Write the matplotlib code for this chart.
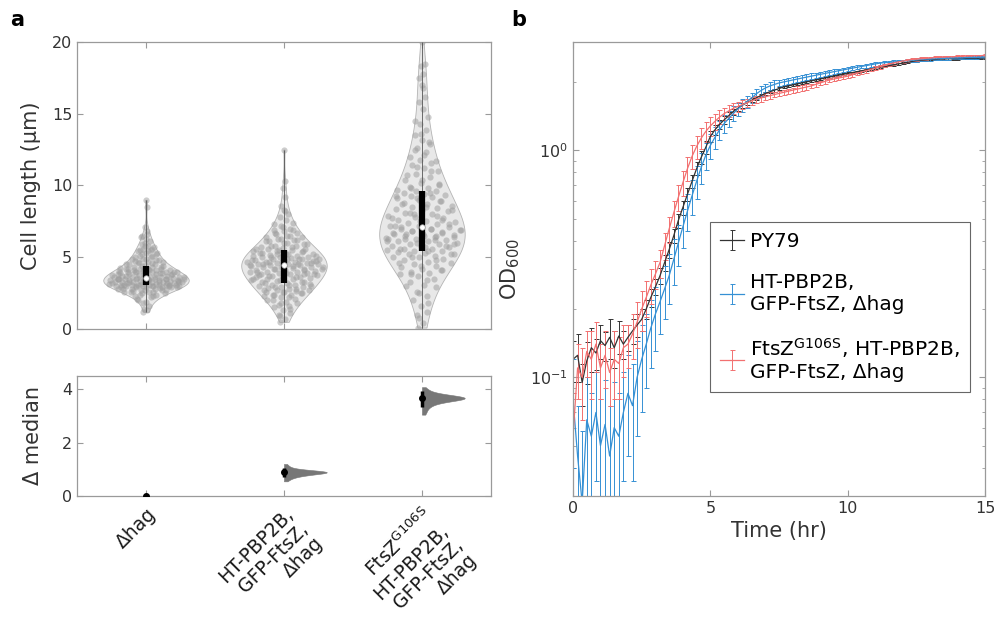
import numpy as np
import matplotlib
matplotlib.use('Agg')
import matplotlib.pyplot as plt
from matplotlib import mlab
from matplotlib.ticker import LogLocator, NullFormatter

plt.rcParams.update({'font.family': 'DejaVu Sans', 'font.size': 11,
                     'axes.edgecolor': '#9a9a9a', 'axes.linewidth': 0.9,
                     'xtick.color': '#9a9a9a', 'ytick.color': '#9a9a9a',
                     'xtick.labelcolor': '#333333', 'ytick.labelcolor': '#333333',
                     'xtick.direction': 'in', 'ytick.direction': 'in',
                     'mathtext.default': 'regular', 'figure.facecolor': 'white'})

# ---------------- panel a : cell lengths (um) ----------------
strains = ['Δhag', 'HT-PBP2B,\nGFP-FtsZ,\nΔhag',
           'FtsZ$^{G106S}$\nHT-PBP2B,\nGFP-FtsZ,\nΔhag']

len_hag = [1.2, 1.3, 1.4, 1.6, 1.9, 2.1, 2.3, 2.4, 2.5, 2.6, 2.6, 2.7, 2.7, 2.8, 2.8,
           2.8, 2.9, 2.9, 2.9, 2.9, 3.0, 3.0, 3.0, 3.0, 3.0, 3.0, 3.0, 3.05, 3.05, 3.05,
           3.1, 3.1, 3.1, 3.1, 3.15, 3.15, 3.2, 3.2, 3.2, 3.25, 3.25, 3.3, 3.3, 3.3, 3.3,
           3.35, 3.35, 3.4, 3.4, 3.4, 3.4, 3.45, 3.45, 3.45, 3.5, 3.5, 3.5, 3.5, 3.55, 3.55,
           3.6, 3.6, 3.6, 3.65, 3.65, 3.7, 3.7, 3.75, 3.75, 3.8, 3.8, 3.85, 3.85, 3.9, 3.9,
           3.95, 3.95, 4.0, 4.0, 4.0, 4.05, 4.05, 4.1, 4.1, 4.1, 4.15, 4.15, 4.2, 4.2, 4.25,
           4.3, 4.35, 4.4, 4.45, 4.5, 4.55, 4.6, 4.65, 4.7, 4.75, 4.8, 4.85, 4.9, 5.0, 5.1,
           5.2, 5.3, 5.4, 5.5, 5.6, 5.7, 5.8, 5.9, 6.1, 6.3, 6.5, 6.6, 7.1, 8.5, 9.0,
           2.3, 2.4, 2.5, 2.55, 2.6, 2.65, 2.7, 2.75, 2.8, 2.85, 2.9, 2.95, 3.0, 3.05, 3.1,
           3.15, 3.2, 3.25, 3.3, 3.35, 3.4, 3.45, 3.5, 3.55, 3.6, 3.65, 3.7, 3.75, 3.8, 3.85,
           3.9, 3.95, 4.0, 4.1, 4.2, 4.3, 4.4, 4.5, 4.6, 4.7, 4.8, 4.9, 5.0, 5.1, 5.2,
           5.3, 5.4, 5.5, 5.6, 5.8, 2.0, 2.2, 1.8, 3.3, 3.4, 3.5, 3.2, 6.0, 6.4, 6.8]
len_pbp = [0.5, 0.7, 0.9, 1.1, 1.3, 1.5, 1.6, 1.7, 1.8, 1.9, 2.0, 2.1, 2.2, 2.3, 2.35,
           2.4, 2.5, 2.55, 2.6, 2.65, 2.7, 2.75, 2.8, 2.85, 2.9, 2.95, 3.0, 3.05, 3.1, 3.15,
           3.2, 3.25, 3.3, 3.35, 3.4, 3.45, 3.5, 3.55, 3.6, 3.6, 3.65, 3.7, 3.75, 3.8, 3.85,
           3.9, 3.9, 3.95, 4.0, 4.0, 4.05, 4.1, 4.1, 4.15, 4.2, 4.2, 4.25, 4.3, 4.3, 4.35,
           4.4, 4.45, 4.45, 4.5, 4.5, 4.55, 4.6, 4.6, 4.65, 4.7, 4.7, 4.75, 4.8, 4.8, 4.85,
           4.9, 4.9, 4.95, 5.0, 5.0, 5.05, 5.1, 5.1, 5.15, 5.2, 5.25, 5.3, 5.35, 5.4, 5.45,
           5.5, 5.55, 5.6, 5.65, 5.7, 5.75, 5.8, 5.9, 6.0, 6.1, 6.2, 6.3, 6.4, 6.5, 6.6,
           6.7, 6.8, 6.9, 7.0, 7.2, 7.4, 7.6, 7.8, 8.0, 8.3, 8.6, 9.2, 9.8, 10.3, 12.5,
           1.0, 1.4, 1.8, 2.0, 2.2, 2.4, 2.5, 2.6, 2.7, 2.8, 2.9, 3.0, 3.1, 3.2, 3.3,
           3.4, 3.5, 3.6, 3.7, 3.8, 3.9, 4.0, 4.1, 4.2, 4.3, 4.4, 4.5, 4.6, 4.7, 4.8,
           4.9, 5.0, 5.1, 5.2, 5.3, 5.4, 5.5, 5.6, 5.7, 5.8, 5.9, 6.0, 6.1, 6.2, 6.3,
           6.4, 6.5, 6.7, 6.9, 7.1, 4.45, 4.55, 4.65, 4.75, 4.85, 3.75, 3.85, 5.25, 7.3, 8.2]
len_g106s = [0.1, 0.4, 0.8, 1.2, 1.6, 2.0, 2.3, 2.6, 2.9, 3.1, 3.3, 3.5, 3.7, 3.8, 3.9,
             4.0, 4.1, 4.2, 4.3, 4.4, 4.5, 4.6, 4.7, 4.8, 4.9, 5.0, 5.05, 5.1, 5.2, 5.25,
             5.3, 5.35, 5.4, 5.45, 5.5, 5.55, 5.6, 5.7, 5.75, 5.8, 5.9, 5.95, 6.0, 6.1, 6.15,
             6.2, 6.3, 6.35, 6.4, 6.5, 6.55, 6.6, 6.7, 6.75, 6.8, 6.9, 6.95, 7.0, 7.1, 7.15,
             7.2, 7.3, 7.4, 7.45, 7.5, 7.6, 7.7, 7.8, 7.9, 8.0, 8.1, 8.2, 8.3, 8.35, 8.4,
             8.5, 8.6, 8.7, 8.8, 8.9, 9.0, 9.1, 9.2, 9.3, 9.35, 9.4, 9.5, 9.6, 9.65, 9.7,
             9.8, 9.9, 10.0, 10.2, 10.4, 10.6, 10.8, 11.0, 11.2, 11.4, 11.6, 11.8, 12.0, 12.3, 12.6,
             12.9, 13.2, 13.5, 13.9, 14.3, 14.8, 15.3, 15.8, 16.2, 17.0, 17.5, 17.8, 18.3, 18.5, 20.0,
             1.0, 1.8, 2.5, 3.0, 3.4, 3.8, 4.1, 4.4, 4.6, 4.8, 5.0, 5.2, 5.4, 5.6, 5.8,
             6.0, 6.1, 6.2, 6.3, 6.4, 6.5, 6.6, 6.7, 6.8, 6.9, 7.0, 7.1, 7.3, 7.5, 7.7,
             7.9, 8.1, 8.3, 8.5, 8.7, 8.9, 9.1, 9.3, 9.5, 9.8, 10.1, 10.4, 10.7, 11.0, 11.3,
             11.7, 12.1, 12.5, 13.0, 13.6, 6.25, 6.45, 6.65, 5.9, 5.7, 7.2, 7.6, 8.0, 14.5, 16.8]
cell_len = [len_hag, len_pbp, len_g106s]

# bootstrapped difference of medians vs Δhag
boot_pbp = [0.55, 0.62, 0.66, 0.70, 0.72, 0.74, 0.76, 0.78, 0.79, 0.80, 0.81, 0.82, 0.83, 0.84,
            0.85, 0.86, 0.86, 0.87, 0.88, 0.88, 0.89, 0.89, 0.90, 0.90, 0.90, 0.91, 0.91, 0.92,
            0.92, 0.93, 0.93, 0.94, 0.95, 0.96, 0.98, 1.00, 1.03, 1.07, 1.12, 1.20]
boot_g106s = [3.05, 3.15, 3.25, 3.32, 3.38, 3.42, 3.46, 3.50, 3.52, 3.54, 3.56, 3.58, 3.60, 3.61,
              3.62, 3.63, 3.64, 3.65, 3.66, 3.66, 3.67, 3.67, 3.68, 3.68, 3.69, 3.69, 3.70, 3.70,
              3.71, 3.72, 3.73, 3.74, 3.76, 3.78, 3.80, 3.83, 3.87, 3.92, 3.98, 4.08]
ci_low = [0.70, 3.35]
ci_high = [1.05, 3.92]

# ---------------- panel b : growth curves ----------------
t_hr = np.arange(91) / 6.0   # every 10 min
od_py79 = [0.120, 0.125, 0.095, 0.118, 0.135, 0.128, 0.145, 0.138, 0.150, 0.135,
           0.152, 0.140, 0.150, 0.160, 0.170, 0.180, 0.200, 0.225, 0.250, 0.280,
           0.320, 0.365, 0.420, 0.490, 0.560, 0.640, 0.730, 0.830, 0.930, 1.03,
           1.15, 1.23, 1.30, 1.36, 1.42, 1.48, 1.53, 1.58, 1.62, 1.66,
           1.70, 1.74, 1.78, 1.81, 1.84, 1.87,
           1.90, 1.92, 1.94, 1.96, 1.98, 2.00, 2.02, 2.04, 2.06, 2.08,
           2.10, 2.12, 2.14, 2.16, 2.18, 2.20, 2.22, 2.24, 2.26, 2.28,
           2.30, 2.32, 2.34, 2.36, 2.38, 2.40, 2.42, 2.44, 2.46, 2.48,
           2.49, 2.50, 2.51, 2.51, 2.52, 2.52, 2.53, 2.53, 2.53, 2.54,
           2.54, 2.54, 2.54, 2.55, 2.55]
err_py79 = [0.025, 0.030, 0.020, 0.025, 0.030, 0.020, 0.025, 0.020, 0.030, 0.025,
            0.025, 0.020, 0.020, 0.020, 0.020, 0.020, 0.020, 0.020, 0.020, 0.022,
            0.025, 0.028, 0.030, 0.035, 0.040, 0.045, 0.050, 0.055, 0.060, 0.065,
            0.065, 0.060, 0.055, 0.050, 0.050, 0.045, 0.040, 0.040, 0.035, 0.035,
            0.030, 0.030, 0.030, 0.030, 0.030, 0.030,
            0.025, 0.025, 0.025, 0.025, 0.025, 0.025, 0.025, 0.025, 0.025, 0.025,
            0.022, 0.022, 0.022, 0.022, 0.022, 0.022, 0.022, 0.022, 0.022, 0.022,
            0.020, 0.020, 0.020, 0.020, 0.020, 0.020, 0.020, 0.020, 0.020, 0.020,
            0.020, 0.020, 0.020, 0.020, 0.020, 0.020, 0.020, 0.020, 0.020, 0.020,
            0.020, 0.020, 0.020, 0.020, 0.020]
od_pbp = [0.080, 0.045, 0.028, 0.065, 0.055, 0.070, 0.050, 0.062, 0.045, 0.060,
          0.055, 0.070, 0.085, 0.075, 0.100, 0.120, 0.140, 0.165, 0.190, 0.215,
          0.245, 0.280, 0.330, 0.390, 0.460, 0.540, 0.630, 0.730, 0.840, 0.950,
          1.05, 1.14, 1.23, 1.31, 1.38, 1.45, 1.52, 1.58, 1.64, 1.70,
          1.77, 1.83, 1.88, 1.92, 1.95, 1.98,
          2.00, 2.02, 2.04, 2.06, 2.08, 2.10, 2.12, 2.14, 2.16, 2.18,
          2.20, 2.22, 2.24, 2.26, 2.28, 2.30, 2.32, 2.34, 2.36, 2.38,
          2.40, 2.42, 2.43, 2.44, 2.45, 2.46, 2.47, 2.48, 2.49, 2.50,
          2.51, 2.52, 2.52, 2.53, 2.53, 2.54, 2.54, 2.55, 2.55, 2.55,
          2.56, 2.56, 2.56, 2.57, 2.57]
err_pbp = [0.040, 0.030, 0.030, 0.035, 0.030, 0.035, 0.030, 0.035, 0.030, 0.035,
           0.030, 0.035, 0.040, 0.040, 0.045, 0.050, 0.050, 0.055, 0.060, 0.060,
           0.065, 0.070, 0.075, 0.080, 0.090, 0.100, 0.110, 0.120, 0.130, 0.130,
           0.130, 0.130, 0.120, 0.120, 0.110, 0.110, 0.100, 0.100, 0.100, 0.090,
           0.090, 0.090, 0.080, 0.080, 0.080, 0.070,
           0.070, 0.070, 0.065, 0.065, 0.060, 0.060, 0.060, 0.055, 0.055, 0.055,
           0.050, 0.050, 0.050, 0.050, 0.050, 0.045, 0.045, 0.045, 0.045, 0.045,
           0.040, 0.040, 0.040, 0.040, 0.040, 0.040, 0.040, 0.040, 0.040, 0.040,
           0.035, 0.035, 0.035, 0.035, 0.035, 0.035, 0.035, 0.035, 0.035, 0.035,
           0.030, 0.030, 0.030, 0.030, 0.030]
od_g106s = [0.055, 0.110, 0.100, 0.130, 0.120, 0.140, 0.110, 0.125, 0.105, 0.120,
            0.115, 0.135, 0.140, 0.155, 0.175, 0.200, 0.225, 0.255, 0.285, 0.320,
            0.380, 0.450, 0.530, 0.620, 0.720, 0.830, 0.940, 1.04, 1.13, 1.21,
            1.28, 1.34, 1.40, 1.45, 1.49, 1.53, 1.56, 1.59, 1.62, 1.65,
            1.68, 1.70, 1.72, 1.74, 1.76, 1.78,
            1.80, 1.82, 1.84, 1.86, 1.88, 1.90, 1.92, 1.95, 1.98, 2.01,
            2.04, 2.06, 2.08, 2.10, 2.12, 2.15, 2.18, 2.21, 2.24, 2.27,
            2.30, 2.33, 2.36, 2.39, 2.42, 2.45, 2.47, 2.49, 2.51, 2.52,
            2.53, 2.54, 2.55, 2.56, 2.57, 2.57, 2.58, 2.58, 2.59, 2.59,
            2.60, 2.60, 2.61, 2.61, 2.62]
err_g106s = [0.030, 0.030, 0.035, 0.030, 0.040, 0.035, 0.030, 0.035, 0.030, 0.040,
             0.035, 0.035, 0.030, 0.035, 0.040, 0.040, 0.040, 0.045, 0.040, 0.045,
             0.050, 0.060, 0.070, 0.080, 0.090, 0.100, 0.110, 0.120, 0.120, 0.120,
             0.120, 0.110, 0.100, 0.090, 0.090, 0.080, 0.080, 0.070, 0.070, 0.070,
             0.060, 0.060, 0.060, 0.060, 0.050, 0.050,
             0.050, 0.050, 0.050, 0.050, 0.050, 0.050, 0.045, 0.045, 0.045, 0.045,
             0.045, 0.045, 0.045, 0.040, 0.040, 0.040, 0.040, 0.040, 0.040, 0.040,
             0.040, 0.040, 0.035, 0.035, 0.035, 0.035, 0.035, 0.035, 0.035, 0.035,
             0.035, 0.035, 0.030, 0.030, 0.030, 0.030, 0.030, 0.030, 0.030, 0.030,
             0.030, 0.030, 0.030, 0.030, 0.030]
curve_labels = ['PY79', 'HT-PBP2B,\nGFP-FtsZ, Δhag',
                'FtsZ$^{G106S}$, HT-PBP2B,\nGFP-FtsZ, Δhag']
curve_colors = ['#333333', '#3590d4', '#f27070']

# ================= figure =================
fig = plt.figure(figsize=(9.95, 6.35), dpi=100)
ax1 = fig.add_axes([0.0774, 0.4819, 0.416, 0.452])
ax2 = fig.add_axes([0.0774, 0.2189, 0.416, 0.189])
ax3 = fig.add_axes([0.5759, 0.2189, 0.414, 0.715])

BW = 0.42
pos = [1, 2, 3]
vp = ax1.violinplot(cell_len, positions=pos, widths=0.62, showextrema=False, bw_method=BW)
for b in vp['bodies']:
    b.set_alpha(None)
    b.set_facecolor((0.84, 0.84, 0.84, 0.55))
    b.set_edgecolor((0.6, 0.6, 0.6, 0.7))
    b.set_linewidth(0.6)

for p, d in zip(pos, cell_len):
    d = np.asarray(d)
    kde = mlab.GaussianKDE(d, BW)
    grid = np.linspace(d.min(), d.max(), 100)
    hw = 0.31 * kde.evaluate(d) / kde.evaluate(grid).max()
    u = ((np.arange(len(d)) * 0.6180339887) % 1) * 2 - 1
    ax1.scatter(p + u * hw * 0.92, d, s=20, color='#9c9c9c', alpha=0.5, lw=0, zorder=2)
    q1, med, q3 = np.percentile(d, [25, 50, 75])
    ax1.vlines(p, d.min(), d.max(), color='#555555', lw=0.6, zorder=3)
    ax1.vlines(p, q1, q3, color='black', lw=4.5, zorder=4)
    ax1.scatter([p], [med], s=16, color='white', edgecolor='#999999', lw=0.5, zorder=5)

ax1.set_xlim(0.5, 3.5)
ax1.set_ylim(0, 20)
ax1.set_yticks([0, 5, 10, 15, 20])
ax1.set_xticks(pos)
ax1.set_xticklabels([])
ax1.tick_params(top=True, right=True, length=4, labelsize=11.5)
ax1.set_ylabel('Cell length (μm)', fontsize=15, color='#333333', labelpad=8)

vp2 = ax2.violinplot([boot_pbp, boot_g106s], positions=[2, 3], widths=0.62,
                     showextrema=False, side='high')
for b in vp2['bodies']:
    b.set_alpha(None)
    b.set_facecolor('#777777')
    b.set_edgecolor('#777777')
    b.set_linewidth(0.4)
meds = [np.median(boot_pbp), np.median(boot_g106s)]
yerr = [np.subtract(meds, ci_low), np.subtract(ci_high, meds)]
ax2.errorbar([2, 3], meds, yerr=yerr, fmt='o', color='black', ms=4, elinewidth=2.5,
             capsize=0, zorder=5)
ax2.plot([1], [0], 'o', color='black', ms=4, zorder=5)
ax2.set_xlim(0.5, 3.5)
ax2.set_ylim(0, 4.5)
ax2.set_yticks([0, 2, 4])
ax2.set_xticks(pos)
ax2.set_xticklabels(strains, rotation=45, ha='right', va='top', rotation_mode='anchor',
                    multialignment='right', fontsize=13.5, color='#1a1a1a', linespacing=1.12)
ax2.tick_params(axis='x', pad=6)
ax2.tick_params(top=True, right=True, length=4, labelsize=11.5)
ax2.tick_params(axis='x', labelsize=13.5)
ax2.set_ylabel('Δ median', fontsize=15, color='#333333', labelpad=14)

# growth curves
series = [(od_py79, err_py79), (od_pbp, err_pbp), (od_g106s, err_g106s)]
for (od, err), col, lab in zip(series, curve_colors, curve_labels):
    ax3.errorbar(t_hr, od, yerr=err, color=col, lw=0.9, elinewidth=0.7,
                 capsize=1.8, capthick=0.7, label=lab)
ax3.set_yscale('log', nonpositive='clip')
ax3.set_xlim(0, 15)
ax3.set_ylim(0.03, 3)
ax3.set_xticks([0, 5, 10, 15])
ax3.yaxis.set_major_locator(LogLocator(base=10, numticks=10))
ax3.yaxis.set_minor_locator(LogLocator(base=10, subs=np.arange(2, 10), numticks=10))
ax3.yaxis.set_minor_formatter(NullFormatter())
ax3.tick_params(which='both', top=True, right=True)
ax3.tick_params(which='major', length=4, labelsize=11.5)
ax3.tick_params(which='minor', length=2.5)
ax3.set_xlabel('Time (hr)', fontsize=15, color='#333333', labelpad=4)
ax3.set_ylabel('OD$_{600}$', fontsize=15, color='#333333', labelpad=6)
leg = ax3.legend(loc='upper left', bbox_to_anchor=(0.7136, 0.6504),
                 bbox_transform=fig.transFigure, borderaxespad=0, fancybox=False,
                 fontsize=14.5, handlelength=1.2, handletextpad=0.3, labelspacing=1.1,
                 borderpad=0.5, framealpha=1)
leg.get_frame().set_edgecolor('#666666')
leg.get_frame().set_linewidth(0.8)

fig.text(0.010, 0.968, 'a', fontsize=15, fontweight='bold', va='center')
fig.text(0.514, 0.968, 'b', fontsize=15, fontweight='bold', va='center')

fig.savefig('out.png', dpi=100)
